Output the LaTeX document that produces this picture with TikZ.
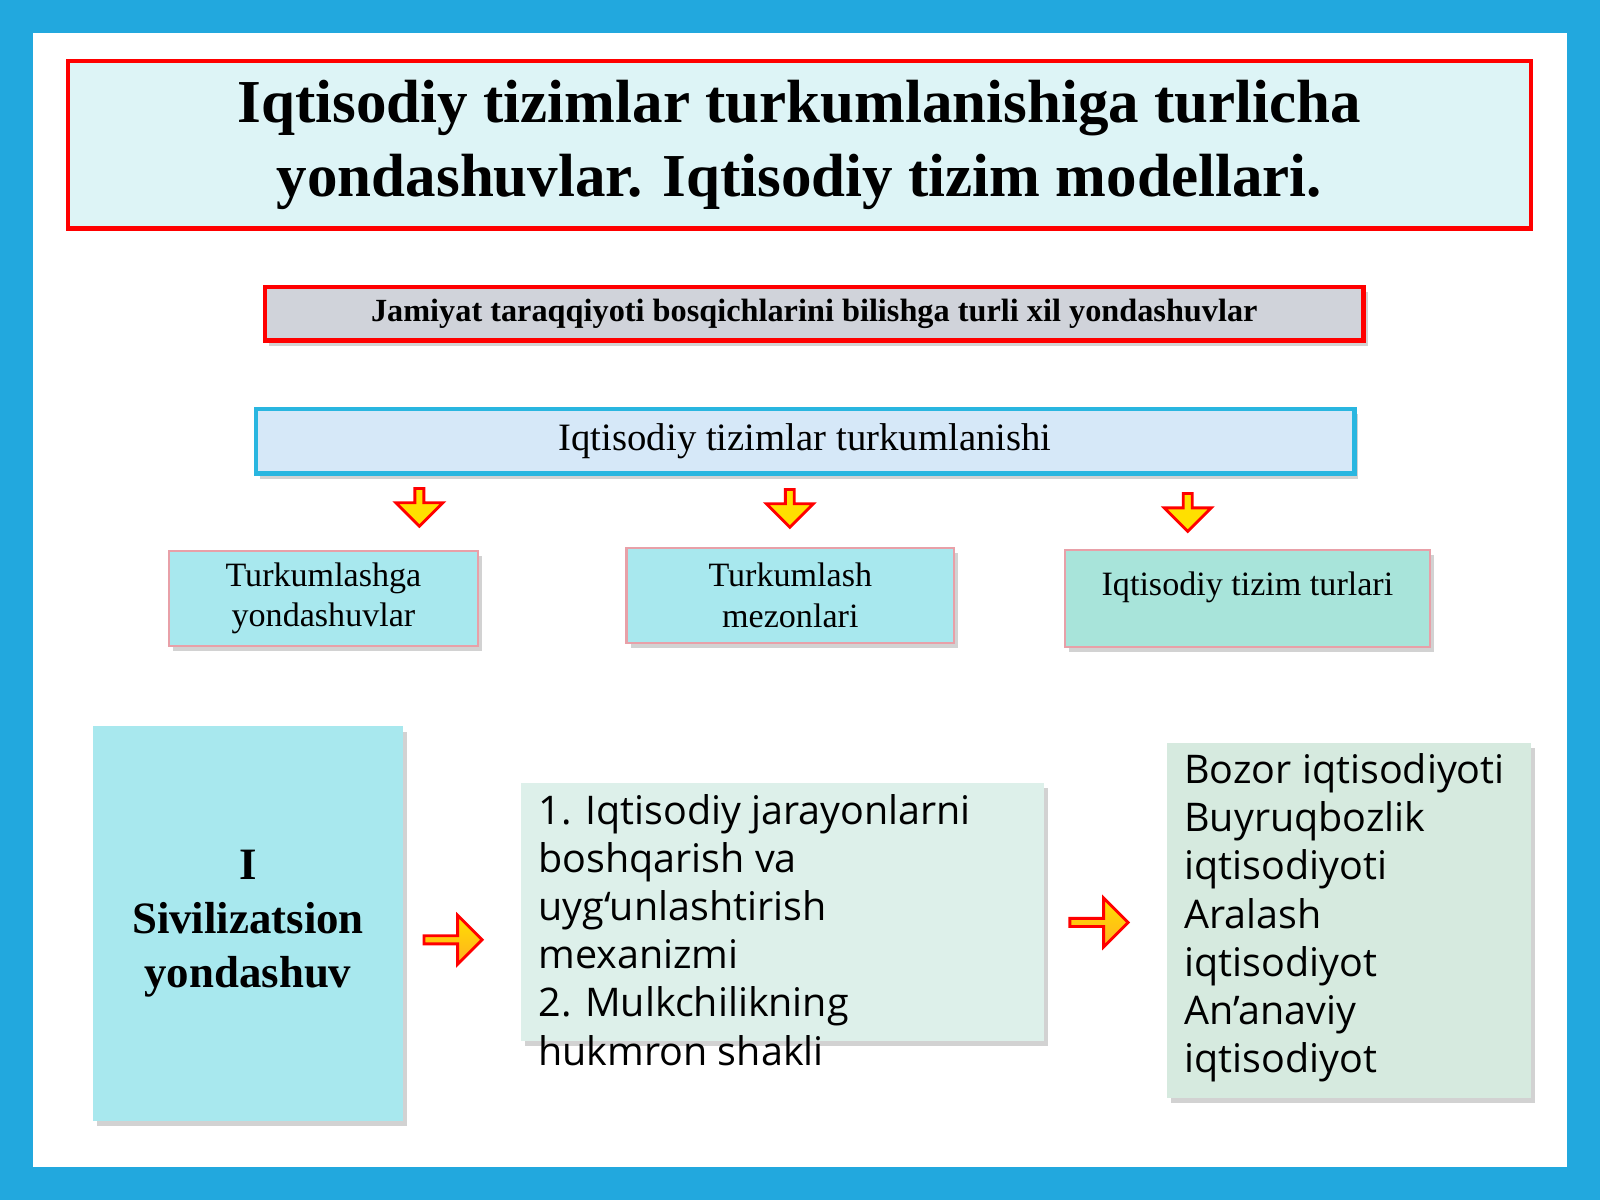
\documentclass[tikz,border=0pt]{standalone}
\usepackage{fontspec}
\setmainfont{Liberation Serif}
\newfontfamily\osans{Open Sans}
\usetikzlibrary{shapes.arrows,shadows}
\definecolor{bgblue}{HTML}{22A8DE}
\definecolor{titlefill}{HTML}{DDF4F6}
\definecolor{grayfill}{HTML}{D0D3DA}
\definecolor{lblue}{HTML}{D6E8F8}
\definecolor{cyanb}{HTML}{29B6E0}
\definecolor{aqua}{HTML}{A8E8EE}
\definecolor{aqua2}{HTML}{A8E4DA}
\definecolor{mint}{HTML}{DDF0EA}
\definecolor{mint2}{HTML}{D6EADF}
\definecolor{pinkb}{HTML}{E8A0A8}
\definecolor{arry}{HTML}{FFE000}
\definecolor{arro}{HTML}{FFB020}
\tikzset{
 shd/.style={drop shadow={shadow xshift=0.04cm,shadow yshift=-0.05cm,opacity=0.35}},
 smallbox/.style={draw=pinkb,line width=0.6pt,shd,align=center,font=\fontsize{9.5}{11.3}\selectfont,inner sep=0pt},
 darr/.style={single arrow,draw=red,line width=0.8pt,fill=arry,shape border rotate=270,minimum height=0.37cm,minimum width=0.46cm,single arrow head extend=0.06cm,inner sep=0pt},
 rarr/.style={single arrow,draw=red,line width=0.8pt,top color=arry,bottom color=arro,shading angle=0,minimum height=0.57cm,minimum width=0.48cm,single arrow head extend=0.07cm,inner sep=0pt},
}
\begin{document}
\begin{tikzpicture}[x=0.01cm,y=-0.01cm]
\fill[bgblue] (0,0) rectangle (1568,1176);
\fill[white] (32,32) rectangle (1536,1144);
\useasboundingbox (0,0) rectangle (1568,1176);
\node[draw=red,line width=1.2pt,fill=titlefill,minimum width=14.33cm,minimum height=1.64cm,align=center,font=\fontsize{17}{20.6}\selectfont\bfseries] (title) at (783.5,142) {Iqtisodiy tizimlar turkumlanishiga turlicha\\yondashuvlar. Iqtisodiy tizim modellari.};
\node[draw=red,line width=1.2pt,fill=grayfill,shd,minimum width=10.76cm,minimum height=0.51cm,font=\fontsize{9}{11}\selectfont\bfseries] (sub) at (798,307.5) {Jamiyat taraqqiyoti bosqichlarini bilishga turli xil yondashuvlar};
\node[draw=cyanb,line width=1.2pt,fill=lblue,shd,minimum width=10.76cm,minimum height=0.63cm,font=\fontsize{10.8}{13}\selectfont] (cls) at (789,432.5) {Iqtisodiy tizimlar turkumlanishi};
\node[darr] (a1) at (411,495) {};
\node[darr] (a2) at (774,496) {};
\node[darr] (a3) at (1164,500) {};
\node[smallbox,fill=aqua,minimum width=3.02cm,minimum height=0.93cm] (b1) at (317,586.5) {Turkumlashga\\yondashuvlar};
\node[smallbox,fill=aqua,minimum width=3.21cm,minimum height=0.93cm] (b2) at (774.5,583.5) {Turkumlash\\mezonlari};
\node[smallbox,fill=aqua2,minimum width=3.57cm,minimum height=0.95cm,anchor=north,text depth=0pt] (b3) at (1222.5,538) {};
\node[font=\fontsize{9.5}{11.3}\selectfont,anchor=north] (b3t) at (1222.5,548) {Iqtisodiy tizim turlari};
\node[fill=aqua,shd,minimum width=3.04cm,minimum height=3.86cm,align=center,font=\fontsize{12.5}{15}\selectfont\bfseries] (civ) at (243,905) {I\\Sivilizatsion\\yondashuv};
\node[rarr] (r1) at (442,921) {};
\node[fill=mint,shd,minimum width=5.12cm,minimum height=2.53cm] (mid) at (767,893.5) {};
\node[anchor=north west,align=left,inner sep=0pt,font=\osans\fontsize{11}{13.4}\selectfont] (midt) at (527,778) {1. Iqtisodiy jarayonlarni\\boshqarish va\\uyg‘unlashtirish\\mexanizmi\\2. Mulkchilikning\\hukmron shakli};
\node[rarr] (r2) at (1075,904) {};
\node[fill=mint2,shd,minimum width=3.56cm,minimum height=3.48cm] (rt) at (1322,902) {};
\node[anchor=north west,align=left,inner sep=0pt,font=\osans\fontsize{11}{13.4}\selectfont] (rtt) at (1160,738) {Bozor iqtisodiyoti\\Buyruqbozlik\\iqtisodiyoti\\Aralash\\iqtisodiyot\\An’anaviy\\iqtisodiyot};
\end{tikzpicture}
\end{document}
